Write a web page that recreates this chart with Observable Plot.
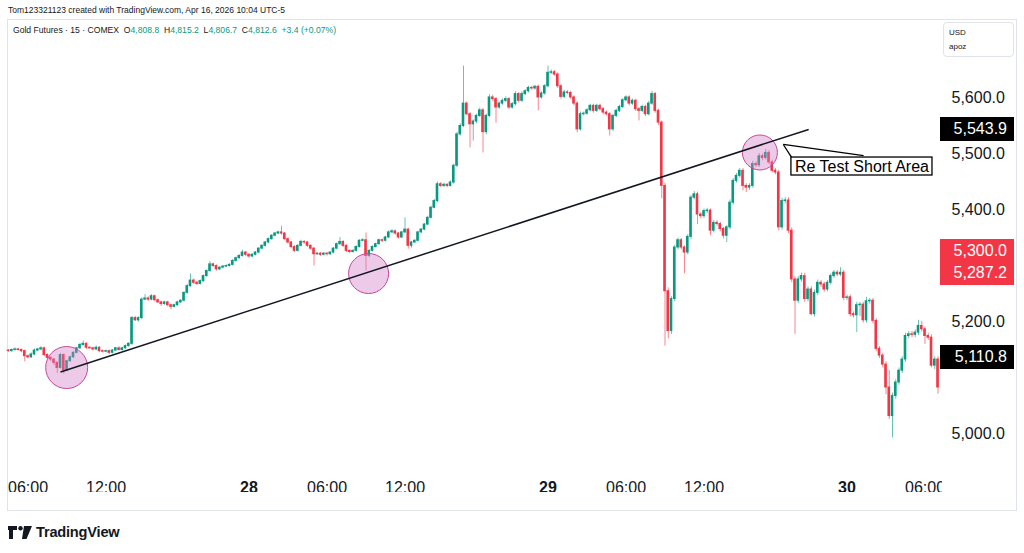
<!DOCTYPE html>
<html><head><meta charset="utf-8">
<script src="https://cdn.jsdelivr.net/npm/d3@7"></script>
<script src="https://cdn.jsdelivr.net/npm/@observablehq/plot@0.6"></script>
<style>
body{margin:0;background:#fff;}
#wrap{position:relative;width:1024px;height:553px;overflow:hidden;font-family:"Liberation Sans",Arial,sans-serif;color:#131722;background:#fff;}
#chart{position:absolute;left:0;top:0;}
.frame{position:absolute;left:7px;top:19px;width:1010px;height:492px;border:1px solid #e0e3eb;box-sizing:border-box;}
.h1{position:absolute;left:8px;top:4px;font-size:8.5px;line-height:12px;white-space:nowrap;}
.h2{position:absolute;left:13px;top:24px;font-size:8.6px;line-height:12px;white-space:nowrap;}
.h2 .g{color:#089981;}
.usd{position:absolute;left:943px;top:22px;width:71px;height:35px;border:1px solid #e0e3eb;border-radius:4px;box-sizing:border-box;font-size:8px;line-height:14px;padding:3px 0 0 5px;}
.plab{position:absolute;left:940px;width:74px;color:#fff;font-size:16px;text-align:right;box-sizing:border-box;padding-right:7px;}
.logo{position:absolute;left:8px;top:522px;height:20px;display:flex;align-items:center;}
.logo span{font-weight:bold;font-size:14.6px;letter-spacing:-0.2px;margin-left:4px;color:#131722;}
</style></head>
<body><div id="wrap">
<div class="frame"></div>
<div class="h1">Tom123321123 created with TradingView.com, Apr 16, 2026 10:04 UTC-5</div>
<div class="h2">Gold Futures · 15 · COMEX &nbsp;O<span class="g">4,808.8</span> &nbsp;H<span class="g">4,815.2</span> &nbsp;L<span class="g">4,806.7</span> &nbsp;C<span class="g">4,812.6</span> &nbsp;<span class="g">+3.4 (+0.07%)</span></div>
<div class="usd">USD<br>apoz</div>
<div id="chart"></div>
<div class="logo"><svg width="24" height="13" viewBox="0 0 24 13"><path d="M0 0h9v4H5v9H1V4H0z" fill="#131722"/><circle cx="12.5" cy="2.2" r="2.2" fill="#131722"/><path d="M16 0h8l-5.5 13h-4.5z" fill="#131722"/></svg><span>TradingView</span></div>
</div>
<script>
// ---- data: 15-minute Gold Futures candles ----
const firstOpen = 5149;
const closes = [
5148,5150,5151,5150,5148,5139,5137,5142,5149,5151,
5153,5141,5136,5133,5127,5118,5141,5114,5130,5137,
5145,5153,5159,5161,5154,5153,5151,5154,5148,5147,
5148,5145,5149,5153,5150,5153,5157,5161,5207,5203,
5207,5240,5242,5240,5246,5239,5235,5232,5235,5230,
5227,5230,5235,5238,5252,5264,5274,5270,5268,5273,
5282,5291,5303,5300,5294,5297,5299,5300,5302,5309,
5314,5318,5324,5320,5317,5320,5324,5331,5336,5342,
5348,5354,5358,5360,5358,5348,5342,5334,5327,5336,
5343,5342,5336,5331,5321,5322,5320,5322,5321,5324,
5331,5339,5343,5336,5327,5325,5327,5334,5345,5346,
5318,5327,5334,5339,5346,5345,5351,5360,5362,5358,
5351,5360,5365,5336,5342,5345,5360,5365,5374,5386,
5404,5416,5446,5443,5445,5443,5449,5479,5535,5550,
5590,5571,5553,5558,5568,5578,5539,5568,5601,5598,
5583,5590,5595,5598,5583,5589,5607,5595,5607,5612,
5618,5617,5620,5601,5608,5621,5645,5646,5642,5621,
5602,5610,5609,5601,5590,5544,5571,5572,5578,5586,
5577,5586,5580,5574,5571,5544,5568,5577,5584,5596,
5601,5590,5595,5580,5577,5584,5571,5590,5607,5577,
5556,5443,5255,5184,5241,5333,5346,5333,5324,5352,
5422,5428,5392,5389,5398,5399,5363,5377,5375,5366,
5354,5369,5413,5452,5461,5470,5443,5440,5443,5482,
5480,5496,5493,5502,5485,5470,5467,5369,5416,5417,
5363,5276,5238,5276,5282,5241,5258,5214,5252,5270,
5267,5258,5270,5282,5288,5285,5288,5243,5244,5214,
5212,5230,5231,5203,5237,5238,5202,5152,5140,5124,
5083,5032,5068,5092,5113,5133,5175,5178,5177,5181,
5193,5187,5175,5172,5122,5133,5083];
// wick lengths above the body top and below the body bottom (price units)
const wickUp = [
2,2,3,2,2,2,2,3,3,2, 3,2,2,2,2,2,3,2,2,2, 2,2,3,5,2,2,2,3,2,2, 2,2,2,2,3,2,2,2,3,3,
2,3,7,3,3,2,2,2,2,2, 2,2,2,2,2,3,12,3,3,2, 2,2,5,2,2,2,2,2,2,3, 2,2,4,2,2,2,2,2,2,2,
2,2,2,2,11,2,2,2,2,2, 3,2,2,2,2,2,2,2,2,2, 2,2,8,2,2,2,2,2,2,3, 13,2,2,2,2,2,2,3,3,2,
2,2,21,2,2,2,2,2,2,3, 3,3,4,3,3,2,3,3,4,4, 67,3,3,3,3,4,3,3,5,4, 3,3,3,4,3,3,4,3,4,3,
3,3,3,3,3,3,12,4,3,3, 3,4,3,3,3,3,4,3,3,3, 3,3,3,3,3,3,3,3,3,3, 3,3,3,3,3,3,3,4,5,3,
3,3,5,6,4,4,4,3,3,4, 4,5,4,3,4,4,3,4,4,3, 3,3,5,4,4,4,4,4,4,5, 4,5,4,6,4,4,4,4,5,5,
5,5,5,5,5,5,5,5,5,5, 4,4,4,4,4,4,9,4,4,4, 4,5,4,4,7,4,4,4,4,4, 5,30,5,5,5,5,5,5,5,5,
10,8,4,5,5,5,5];
const wickDown = [
2,2,2,2,3,10,3,2,2,2, 2,3,3,4,5,10,2,7,3,2, 2,2,2,2,3,2,3,2,3,2, 2,3,2,2,2,2,2,2,3,2,
3,3,2,3,2,3,2,4,2,3, 5,2,2,2,2,2,2,3,3,2, 2,2,2,3,3,2,2,2,2,2, 2,2,2,3,3,2,2,2,2,2,
2,2,2,2,3,3,3,3,3,2, 2,3,3,3,21,2,3,2,3,2, 2,2,2,3,3,3,2,2,2,2, 27,3,2,2,2,3,2,2,2,3,
3,2,2,6,4,2,2,2,2,2, 2,2,3,3,3,3,2,3,3,3, 3,3,42,30,4,3,37,5,3,4, 28,3,3,3,4,3,3,4,3,3,
3,3,3,24,3,3,3,3,3,4, 4,3,3,4,4,6,3,3,3,3, 4,3,3,4,3,12,4,3,3,3, 3,4,3,4,18,3,4,3,3,4,
5,23,98,14,6,5,4,4,38,4, 5,4,18,5,4,4,9,4,4,5, 6,12,4,4,4,4,9,9,5,4, 4,4,5,4,4,4,4,6,5,5,
5,6,60,5,5,6,5,3,5,5, 5,5,4,4,4,4,4,5,5,5, 5,31,20,5,5,5,5,5,5,6, 13,6,39,6,5,5,5,5,5,5,
5,5,15,5,4,7,12];

// time axis (bar index of each label)
const tickIndex = [6, 30, 74, 98, 122, 166, 190, 214, 258, 282];
const tickLabels = ["06:00","12:00","28","06:00","12:00","29","06:00","12:00","30","06:00"];
const tickIsDay = [false,false,true,false,false,true,false,false,true,false];
// price axis
const priceTicks = [5000, 5200, 5400, 5500, 5600];

// drawing annotations
const trendIndex = [16.0, 246.2];
const trendPrice = [5110.8, 5543.9];
const circleIndex = [17.9, 110.8, 231.2];
const circlePrice = [5118.7, 5286.6, 5502.7];
const circleRadius = [21, 20, 17.5];
const calloutText = "Re Test Short Area";
const calloutTip = [238.4, 5517];
const calloutBase = [[241.0, 5493.7], [263.1, 5497]];
const calloutBoxIndex = [240.9, 284.3];
const calloutBoxPrice = [5461.6, 5493.7];

// price labels on the axis
const axisLabels = [
  {text: ["5,543.9"], price: 5543.9, bg: "#000000", shift: 0},
  {text: ["5,300.0", "5,287.2"], price: 5300.0, bg: "#f23645", shift: -4},
  {text: ["5,110.8"], price: 5110.8, bg: "#000000", shift: -14}
];

const GREEN = "#089981", RED = "#f23645";

// ---- build table ----
const bars = closes.map((c, i) => {
  const o = i === 0 ? firstOpen : closes[i - 1];
  const up = c >= o;
  return {i, open: o, close: c,
    high: Math.max(o, c) + wickUp[i], low: Math.min(o, c) - wickDown[i],
    color: up ? GREEN : RED};
});
const ticks = tickIndex.map((x, k) => ({x, t: tickLabels[k], day: tickIsDay[k]}));
const circles = circleIndex.map((x, k) => ({x, y: circlePrice[k], r: circleRadius[k]}));
const trend = [{x1: trendIndex[0], y1: trendPrice[0], x2: trendIndex[1], y2: trendPrice[1]}];
const pointer = calloutBase.map(b => ({x1: calloutTip[0], y1: calloutTip[1], x2: b[0], y2: b[1]}));
const box = [{x1: calloutBoxIndex[0], x2: calloutBoxIndex[1], y1: calloutBoxPrice[0], y2: calloutBoxPrice[1]}];
const boxText = [{x: (calloutBoxIndex[0] + calloutBoxIndex[1]) / 2, y: (calloutBoxPrice[0] + calloutBoxPrice[1]) / 2, t: calloutText}];

const plot = Plot.plot({
  width: 1024, height: 553,
  marginLeft: 7, marginRight: 82, marginTop: 19, marginBottom: 61,
  x: {type: "linear", domain: [0, 286], range: [8, 937.5], axis: null},
  y: {domain: [5000, 5600], range: [433.5, 97.5], label: null},
  r: {type: "identity"},
  style: {fontFamily: "Liberation Sans, Arial, sans-serif", fontSize: "16px", color: "#131722", background: "transparent", overflow: "visible"},
  marks: [
    Plot.ruleX(bars, {x: "i", y1: "low", y2: "high", stroke: "color", strokeOpacity: 0.6, strokeWidth: 1}),
    Plot.rect(bars, {x1: d => d.i - 0.4, x2: d => d.i + 0.4, y1: "open", y2: "close", fill: "color", insetTop: -0.5, insetBottom: -0.5}),
    Plot.dot(circles, {x: "x", y: "y", r: "r", fill: "#d27ec6", fillOpacity: 0.4, stroke: "#c2489f", strokeWidth: 1}),
    Plot.link(trend, {x1: "x1", y1: "y1", x2: "x2", y2: "y2", stroke: "#131722", strokeWidth: 1.5}),
    Plot.link(pointer, {x1: "x1", y1: "y1", x2: "x2", y2: "y2", stroke: "#000", strokeWidth: 1.3}),
    Plot.rect(box, {x1: "x1", x2: "x2", y1: "y1", y2: "y2", fill: "#fff", stroke: "#000", strokeWidth: 1.3}),
    Plot.text(boxText, {x: "x", y: "y", text: "t", fontSize: 16, fill: "#000"}),
    Plot.axisY({ticks: priceTicks, anchor: "right", tickSize: 0, tickPadding: 9, tickFormat: d3.format(",.1f"), fontSize: 16, label: null}),
    Plot.text(ticks.filter(d => !d.day), {x: "x", text: "t", frameAnchor: "bottom", fontSize: 16, fill: "#131722", clip: true}),
    Plot.text(ticks.filter(d => d.day), {x: "x", text: "t", frameAnchor: "bottom", fontSize: 16, fontWeight: "bold", fill: "#131722", clip: true})
  ]
});
document.getElementById("chart").appendChild(plot);

// price labels positioned with the plot's y scale
const ys = plot.scale("y");
const wrap = document.getElementById("wrap");
axisLabels.forEach(L => {
  const d = document.createElement("div");
  d.className = "plab";
  const lh = 22;
  const h = L.text.length * lh + 2;
  const top = ys.apply(L.price) + L.shift - (L.text.length > 1 ? lh + 1 : h / 2);
  d.style.top = top + "px";
  d.style.height = h + "px";
  d.style.background = L.bg;
  d.style.lineHeight = lh + "px";
  d.style.paddingTop = "1px";
  d.innerHTML = L.text.join("<br>");
  wrap.appendChild(d);
});
</script>
</body></html>
